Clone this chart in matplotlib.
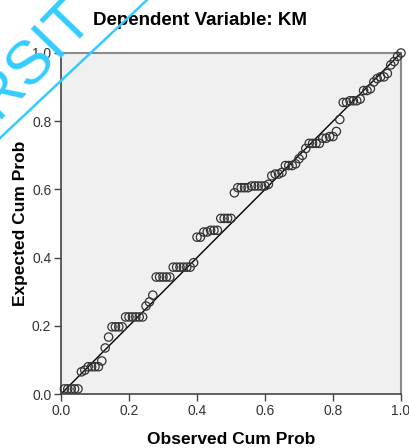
import matplotlib
matplotlib.use("Agg")
import matplotlib.pyplot as plt

# observed vs expected cumulative probabilities
observed = [0.01, 0.02, 0.03, 0.04, 0.05, 0.06, 0.07, 0.08, 0.09, 0.10,
            0.11, 0.12, 0.13, 0.14, 0.15, 0.16, 0.17, 0.18, 0.19, 0.20,
            0.21, 0.22, 0.23, 0.24, 0.25, 0.26, 0.27, 0.28, 0.29, 0.30,
            0.31, 0.32, 0.33, 0.34, 0.35, 0.36, 0.37, 0.38, 0.39, 0.40,
            0.41, 0.42, 0.43, 0.44, 0.45, 0.46, 0.47, 0.48, 0.49, 0.50,
            0.51, 0.52, 0.53, 0.54, 0.55, 0.56, 0.57, 0.58, 0.59, 0.60,
            0.61, 0.62, 0.63, 0.64, 0.65, 0.66, 0.67, 0.68, 0.69, 0.70,
            0.71, 0.72, 0.73, 0.74, 0.75, 0.76, 0.77, 0.78, 0.79, 0.80,
            0.81, 0.82, 0.83, 0.84, 0.85, 0.86, 0.87, 0.88, 0.89, 0.90,
            0.91, 0.92, 0.93, 0.94, 0.95, 0.96, 0.97, 0.98, 0.99, 1.00]
expected = [0.015, 0.015, 0.015, 0.015, 0.015, 0.065, 0.07, 0.08, 0.08, 0.08,
            0.08, 0.097, 0.135, 0.167, 0.197, 0.197, 0.197, 0.197, 0.226, 0.226,
            0.226, 0.226, 0.226, 0.226, 0.258, 0.27, 0.29, 0.343, 0.343, 0.343,
            0.343, 0.343, 0.372, 0.372, 0.372, 0.372, 0.372, 0.372, 0.385, 0.46,
            0.46, 0.475, 0.475, 0.48, 0.48, 0.48, 0.515, 0.515, 0.515, 0.515,
            0.59, 0.605, 0.605, 0.605, 0.605, 0.61, 0.61, 0.61, 0.61, 0.61,
            0.615, 0.64, 0.645, 0.645, 0.65, 0.67, 0.67, 0.67, 0.675, 0.69,
            0.70, 0.72, 0.735, 0.735, 0.735, 0.735, 0.75, 0.75, 0.755, 0.755,
            0.77, 0.805, 0.855, 0.855, 0.86, 0.86, 0.86, 0.865, 0.89, 0.89,
            0.895, 0.915, 0.925, 0.93, 0.93, 0.94, 0.965, 0.975, 0.99, 1.0]
ticks = [0.0, 0.2, 0.4, 0.6, 0.8, 1.0]

plt.rcParams['font.family'] = ['Liberation Sans', 'DejaVu Sans']

fig = plt.figure(figsize=(4.1, 4.48), dpi=100)
ax = fig.add_axes([0.1488, 0.1205, 0.8292, 0.7612])
ax.set_facecolor('#f0f0f0')

ax.plot([0, 1], [0, 1], color='black', lw=1.0, zorder=2)
ax.scatter(observed, expected, s=36, facecolors='none', edgecolors='#333333',
           linewidths=0.9, zorder=3, clip_on=False)

ax.set_xlim(0, 1)
ax.set_ylim(0, 1)
ax.set_xticks(ticks)
ax.set_yticks(ticks)
ax.set_xticklabels([f'{t:.1f}' for t in ticks])
ax.set_yticklabels([f'{t:.1f}' for t in ticks])
ax.tick_params(direction='out', length=5, width=1, color='#444444',
               labelsize=10, labelcolor='#333333', pad=2)
for side in ['left', 'bottom']:
    ax.spines[side].set_color('#444444')
    ax.spines[side].set_linewidth(1.2)
for side in ['top', 'right']:
    ax.spines[side].set_color('#8a8a8a')
    ax.spines[side].set_linewidth(1.5)

ax.set_xlabel('Observed Cum Prob', fontsize=12.5, fontweight='bold', labelpad=10)
ax.set_ylabel('Expected Cum Prob', fontsize=12.5, fontweight='bold', labelpad=3)
fig.text(0.487, 0.955, 'Dependent Variable: KM', ha='center', va='center',
         fontsize=13.5, fontweight='bold')

# cyan watermark in the upper left corner
wm = '#33ccff'
fig.add_artist(plt.Line2D([0, 147 / 410], [1 - 138 / 448, 1], color=wm, lw=1.8,
                          transform=fig.transFigure, zorder=10))
fig.text(-0.005, 1 - 120 / 448, 'RSIT', color=wm, fontsize=44, rotation=46,
         rotation_mode='anchor', ha='left', va='baseline', zorder=10)

fig.savefig('out.png', dpi=100)
